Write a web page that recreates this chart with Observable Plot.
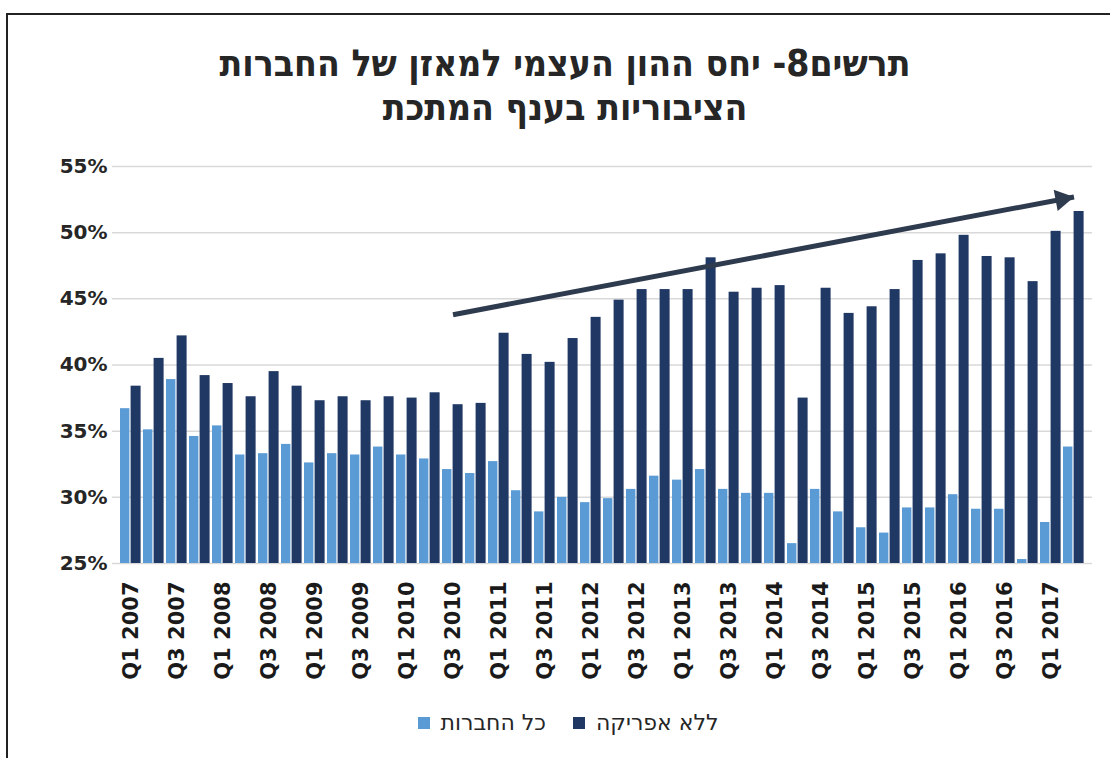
<!DOCTYPE html>
<html lang="he">
<head>
<meta charset="utf-8">
<script src="https://cdn.jsdelivr.net/npm/d3@7"></script>
<script src="https://cdn.jsdelivr.net/npm/@observablehq/plot@0.6"></script>
<style>
  html, body { margin: 0; padding: 0; background: #fff; }
  body { width: 1110px; height: 758px; position: relative; overflow: hidden; font-family: "DejaVu Sans", sans-serif; }
  #frame { position: absolute; left: 6px; top: 13px; width: 1200px; height: 800px; border-top: 2px solid #222; border-left: 2px solid #222; }
  #title { position: absolute; left: 0; width: 1130px; top: 42px; text-align: center; direction: rtl;
           font-family: "DejaVu Sans Condensed", "DejaVu Sans", sans-serif; font-weight: bold; font-size: 37px; line-height: 44px; color: #262626; }
  #chart { position: absolute; left: 0; top: 150px; }
  #legend { position: absolute; top: 710px; left: 0; width: 1136px; display: flex; justify-content: center; gap: 27px;
            font-family: "DejaVu Sans", sans-serif; font-size: 22px; color: #262626; }
  .item { display: flex; align-items: center; gap: 11px; }
  .sw { width: 12px; height: 12px; display: inline-block; }
</style>
</head>
<body>
<div id="frame"></div>
<div id="title">תרשים8- יחס ההון העצמי למאזן של החברות<br>הציבוריות בענף המתכת</div>
<div id="chart"></div>
<div id="legend"></div>
<script>
// Quarters Q1 2007 .. Q2 2017
const years = [2007, 2008, 2009, 2010, 2011, 2012, 2013, 2014, 2015, 2016, 2017];
const quarters = [];
for (const y of years) for (const q of [1, 2, 3, 4]) quarters.push(`Q${q} ${y}`);
quarters.splice(42); // ends at Q2 2017

const seriesNames = ["כל החברות", "ללא אפריקה"];
const seriesColors = ["#5b9bd5", "#203864"];

// % equity-to-assets ratio
const allCompanies = [
  36.7, 35.1, 38.9, 34.6, 35.4, 33.2, 33.3, 34.0, 32.6, 33.3, 33.2, 33.8,
  33.2, 32.9, 32.1, 31.8, 32.7, 30.5, 28.9, 30.0, 29.6, 29.9, 30.6, 31.6,
  31.3, 32.1, 30.6, 30.3, 30.3, 26.5, 30.6, 28.9, 27.7, 27.3, 29.2, 29.2,
  30.2, 29.1, 29.1, 25.3, 28.1, 33.8
];
const withoutAfrica = [
  38.4, 40.5, 42.2, 39.2, 38.6, 37.6, 39.5, 38.4, 37.3, 37.6, 37.3, 37.6,
  37.5, 37.9, 37.0, 37.1, 42.4, 40.8, 40.2, 42.0, 43.6, 44.9, 45.7, 45.7,
  45.7, 48.1, 45.5, 45.8, 46.0, 37.5, 45.8, 43.9, 44.4, 45.7, 47.9, 48.4,
  49.8, 48.2, 48.1, 46.3, 50.1, 51.6
];

const yTicks = [25, 30, 35, 40, 45, 50, 55];

// Trend arrow annotation (from quarter/value to quarter/value)
const trendArrow = [{q1: "Q3 2010", v1: 43.8, q2: "Q2 2017", v2: 52.7}];

const rows = [];
quarters.forEach((q, i) => {
  rows.push({quarter: q, series: seriesNames[0], value: allCompanies[i]});
  rows.push({quarter: q, series: seriesNames[1], value: withoutAfrica[i]});
});

const arrowColor = "#2e3a4d";

const chart = Plot.plot({
  width: 1110,
  height: 538,
  marginTop: 16,
  marginBottom: 125,
  marginLeft: 112,
  marginRight: 18,
  style: {background: "transparent", fontFamily: "DejaVu Sans, sans-serif"},
  x: {type: "band", domain: quarters, padding: 0, label: null},
  y: {domain: [25, 55], label: null},
  color: {domain: seriesNames, range: seriesColors},
  marks: [
    Plot.gridY(yTicks, {stroke: "#d9d9d9", strokeOpacity: 1, strokeWidth: 1.5}),
    Plot.barY(rows.filter(d => d.series === seriesNames[0]), {
      x: "quarter", y1: 25, y2: "value", fill: "series", insetLeft: 1, insetRight: 12.6
    }),
    Plot.barY(rows.filter(d => d.series === seriesNames[1]), {
      x: "quarter", y1: 25, y2: "value", fill: "series", insetLeft: 11.6, insetRight: 1.4
    }),
    Plot.axisY(yTicks, {
      tickSize: 0, tickPadding: 5, tickFormat: d => d + "%",
      fontSize: 20, fontWeight: "bold", fill: "#262626", label: null
    }),
    Plot.axisX({
      tickSize: 0, tickPadding: 18, tickRotate: -90,
      tickFormat: (d, i) => (i % 2 === 0 ? d : ""),
      fontSize: 21, fontWeight: "bold", fill: "#1a1a1a", label: null
    }),
    Plot.link(trendArrow, {
      x1: "q1", y1: "v1", x2: "q2", y2: "v2",
      stroke: arrowColor, strokeWidth: 5, strokeLinecap: "butt"
    }),
    Plot.dot(trendArrow, {
      x: "q2", y: "v2", symbol: "triangle", r: 8, rotate: 79.4,
      fill: arrowColor, stroke: "none", dx: -12.2, dy: 2.3
    })
  ]
});
document.getElementById("chart").appendChild(chart);

const legend = document.getElementById("legend");
seriesNames.forEach((name, i) => {
  const item = document.createElement("div");
  item.className = "item";
  const sw = document.createElement("span");
  sw.className = "sw";
  sw.style.background = seriesColors[i];
  const label = document.createElement("span");
  label.textContent = name;
  label.style.direction = "rtl";
  item.appendChild(sw);
  item.appendChild(label);
  legend.appendChild(item);
});
</script>
</body>
</html>
